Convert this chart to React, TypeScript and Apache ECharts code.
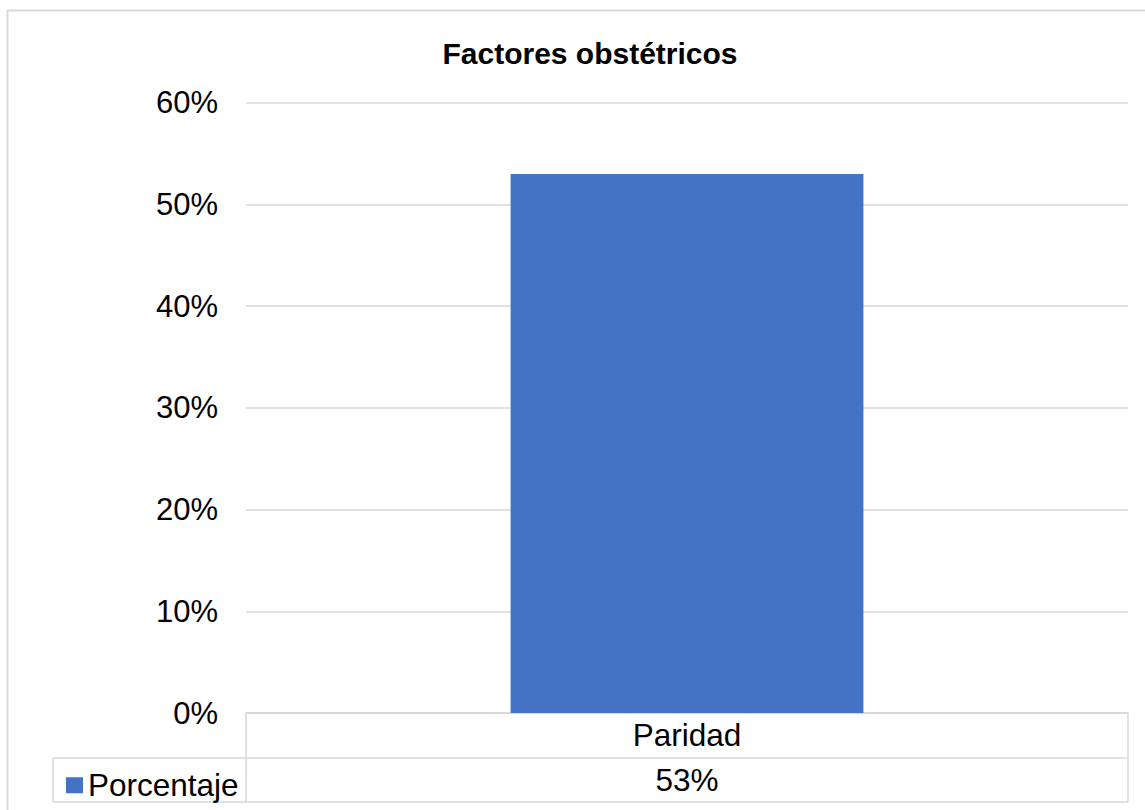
import React, { useEffect, useRef } from "react";
import * as echarts from "echarts";

const title = "Factores obstétricos";
const categories = ["Paridad"];
const seriesName = "Porcentaje";
const values = [0.53];
const yTicks = [0, 0.1, 0.2, 0.3, 0.4, 0.5, 0.6];

const pct = (v: number) => `${Math.round(v * 100)}%`;

export default function App() {
  const ref = useRef<HTMLDivElement>(null);
  useEffect(() => {
    if (!ref.current) return;
    const chart = echarts.init(ref.current, undefined, { renderer: "svg" });
    const gridLeft = 246;
    const gridRight = 1128;
    const gridTop = 102.7;
    const axisY = 713;
    const row1Bottom = 758;
    const row2Bottom = 802;
    const legendLeft = 53;
    const lineColor = "#d9d9d9";
    const font = "Liberation Sans, Arial, sans-serif";
    const fs = 31.5;

    chart.setOption({
      animation: false,
      backgroundColor: "#ffffff",
      title: {
        text: title,
        left: 585,
        top: 33,
        textAlign: "center",
        textStyle: { fontFamily: font, fontWeight: "bold", fontSize: 30, color: "#000" },
      },
      legend: {
        data: [seriesName],
        left: legendLeft + 8,
        top: 780 - fs / 2,
        icon: "rect",
        itemWidth: 17,
        itemHeight: 16,
        textStyle: { fontFamily: font, fontSize: fs, color: "#000" },
      },
      grid: { left: gridLeft, right: 1145 - gridRight, top: gridTop, bottom: 810 - axisY, containLabel: false },
      xAxis: {
        type: "category",
        data: categories,
        axisLine: { show: true, lineStyle: { color: lineColor, width: 1.5 } },
        axisTick: { show: false },
        axisLabel: {
          margin: 22,
          verticalAlign: "middle",
          fontFamily: font,
          fontSize: fs,
          color: "#000",
        },
      },
      yAxis: {
        type: "value",
        min: yTicks[0],
        max: yTicks[yTicks.length - 1],
        interval: yTicks[1] - yTicks[0],
        axisLine: { show: false },
        axisTick: { show: false },
        axisLabel: {
          margin: 28,
          formatter: (v: number) => pct(v),
          fontFamily: font,
          fontSize: 31,
          color: "#000",
        },
        splitLine: { lineStyle: { color: lineColor, width: 1.5 } },
      },
      series: [
        {
          name: seriesName,
          type: "bar",
          data: values,
          barWidth: "40%",
          itemStyle: { color: "#4472C4" },
        },
      ],
    });

    const cx = chart.convertToPixel({ xAxisIndex: 0 }, categories[0]) as number;
    const ln = (x1: number, y1: number, x2: number, y2: number) => ({
      type: "line",
      shape: { x1, y1, x2, y2 },
      style: { stroke: lineColor, lineWidth: 1.5 },
      silent: true,
    });
    chart.setOption({
      graphic: [
        {
          type: "rect",
          shape: { x: 7.5, y: 10.5, width: 1300, height: 1000 },
          style: { fill: "none", stroke: lineColor, lineWidth: 2 },
          silent: true,
        },
        ln(gridLeft, axisY, gridRight, axisY),
        ln(legendLeft, row1Bottom, gridRight, row1Bottom),
        ln(legendLeft, row2Bottom, gridRight, row2Bottom),
        ln(gridLeft, axisY, gridLeft, row2Bottom),
        ln(gridRight, axisY, gridRight, row2Bottom),
        ln(legendLeft, row1Bottom, legendLeft, row2Bottom),
        {
          type: "text",
          x: cx,
          y: 780,
          style: {
            text: pct(values[0]),
            align: "center",
            verticalAlign: "middle",
            fontFamily: font,
            fontSize: fs,
            fill: "#000",
          },
        },
      ],
    });
    return () => chart.dispose();
  }, []);
  return (
    <div
      ref={ref}
      style={{ position: "fixed", left: 0, top: 0, width: 1145, height: 810 }}
    />
  );
}
